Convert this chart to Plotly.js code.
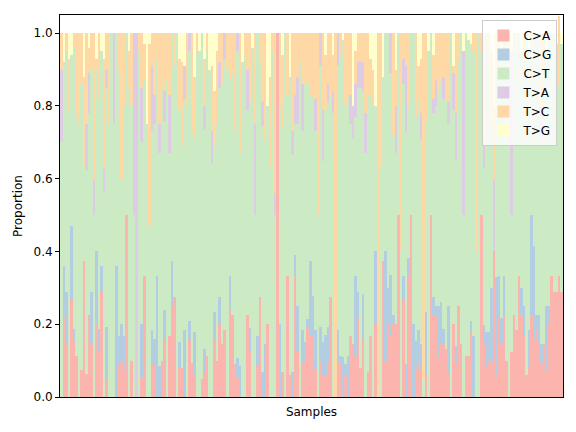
<!DOCTYPE html>
<html>
<head>
<meta charset="utf-8">
<script src="https://cdn.plot.ly/plotly-3.0.1.min.js"></script>
<style>html,body{margin:0;padding:0;background:#fff;}#chart{width:576px;height:432px;}</style>
</head>
<body>
<div id="chart"></div>
<script>
const mutationTypes = ["C>A", "C>G", "C>T", "T>A", "T>C", "T>G"];
const colors = ["#fbb4ae", "#b3cde3", "#ccebc5", "#decbe4", "#fed9a6", "#ffffcc"];

const CA = [0,.218,.147,0,.269,.152,.112,0,.074,.375,.063,.225,.147,0,.2,.125,.288,0,.048,0,0,0,0,.086,.1,.074,.5,0,
.1,0,0,0,.056,.333,0,0,.092,.085,0,0,.1,.16,0,.167,.25,.275,0,.08,.08,0,0,.16,.093,.06,0,0,.05,
.07,.112,0,0,.156,.1,.2,.147,.184,0,.242,.225,.092,.056,0,0,0,.225,.125,0,0,.085,.275,0,0,.2,0,0,
0,1,0,.07,0,.333,.06,0,.333,.125,0,.094,.1,.19,.167,.167,.074,0,.097,.06,.06,.097,.275,0,0,.092,.092,0,.06,
0,.167,.147,.112,.218,.079,.16,0,.07,.167,0,.2,0,0,.375,.1,.2,.167,.2,.2,.5,0,.268,0,.333,.5,0,.078,
.092,.074,0,.06,0,.5,.225,.225,.106,.147,.147,.133,.065,0,.2,.09,.25,.147,0,.112,.112,.179,0,0,0,.5,.147,.08,.1,
.1,.4,.06,.218,.147,.225,.1,0,.125,.225,.184,.333,.225,.167,.06,.083,.222,.156,.184,.147,.092,.147,.07,.2,.333,.288,.289,.333,.289];

const CG = [0,.141,.141,0,.2,.034,0,0,0,0,0,0,.141,0,.2,.063,.071,0,.144,0,0,0,.359,.081,.1,.093,0,0,
0,0,0,0,.144,0,0,0,.091,.075,.333,.085,0,.08,0,0,.125,0,0,.07,0,.183,0,.05,0,.12,0,0,0,
.063,0,0,0,.077,0,.075,0,0,0,.091,0,0,.05,.085,0,0,0,.065,0,0,.082,0,.07,.147,0,0,0,
0,0,.2,0,0,0,0,.07,.056,.125,0,.09,.05,.025,.208,.112,.11,0,.096,.09,.11,.096,0,0,0,.092,.02,.11,.03,
.112,0,0,.221,.07,0,.122,0,0,0,0,.2,0,0,0,.3,.1,.167,.025,0,0,0,.065,.092,.05,0,.2,.077,
.092,.073,0,.174,0,0,.05,.025,.145,.114,.04,0,.186,0,0,.05,0,0,0,0,0,.031,.167,0,0,0,.05,.1,.08,
.2,0,.27,.115,.071,.108,0,0,0,0,0,0,.075,.083,0,.1,.278,.26,.041,.078,.055,0,.18,.05,0,0,0,0,0];

const CT = [.7,.561,.662,.79,.471,.774,.668,.75,.786,.255,.562,.555,.612,.5,.5,.632,.591,.56,.658,.75,1,.75,.641,.733,.4,.633,.5,.85,
.7,.5,0,.95,.5,.537,.75,.47,.547,.59,.597,.585,.75,.52,.87,.503,.625,.635,1,.64,.61,.637,.8,.74,.637,.53,.95,.95,.95,
.602,.838,.9,.64,.457,.65,.575,.713,.746,.9,.537,.665,.638,.844,.585,.92,.94,.565,.62,.96,.5,.833,.645,.675,.563,.6,.63,.95,
.5,0,.6,.67,1,.497,.82,.595,.361,.5,.92,.546,.71,.645,.455,.551,.546,.5,.717,.5,.62,.617,.555,.78,0,.726,.828,.87,.71,
.718,.583,.563,.437,.562,.771,.558,.67,.76,.663,.8,.4,0,.63,.505,.6,.7,.556,.495,.47,.5,.4,.527,.638,.417,.5,.8,.615,
.636,.563,.05,.526,.95,.5,.505,.55,.589,.599,.633,.677,.499,1,.59,.51,.67,.853,.5,.888,.868,.76,.783,.4,1,.45,.433,.82,.77,
.45,0,.57,.617,.732,.667,.85,.9,.375,.775,.766,.667,.65,.67,.94,.777,.5,.584,.775,.775,.553,.853,.71,.75,.667,.712,.641,.523,.681];

const TA = [.2,0,0,0,0,0,0,0,0,0,.125,.11,0,.1,0,0,0,.07,.05,0,0,.25,0,0,0,0,0,0,
0,.5,1,0,.15,0,0,0,.18,.08,0,.08,0,.08,0,.16,0,0,0,0,0,.09,0,.05,0,0,0,0,0,
.065,0,0,.09,0,0,.07,0,.07,0,0,0,0,.05,0,0,0,.11,0,0,.25,0,0,.065,0,0,0,0,
.062,0,0,0,0,0,0,.065,.08,.13,0,.13,0,0,0,0,.09,0,.09,.14,0,.05,0,.06,0,.09,0,0,0,
0,.08,.09,.09,.07,.07,.08,.11,0,0,0,0,0,0,0,0,0,.11,0,.13,0,0,.07,.18,0,0,0,0,
0,.07,0,0,0,0,.04,.07,0,0,.06,0,.06,0,.1,.13,0,0,.45,0,0,0,0,0,0,0,.07,0,0,
0,.2,0,0,0,0,0,0,.45,0,0,0,0,0,0,0,0,0,0,0,.1,0,0,0,0,0,0,0,0];

const TC = [.1,0,.05,.14,0,.04,.22,.25,.14,.25,.25,.07,.1,.4,.03,.18,0,.3,.1,.25,0,0,0,.1,.4,.2,0,.1,
.2,0,0,.05,.15,.1,0,.5,.09,.17,.07,.25,.15,.16,.13,.17,0,.09,0,.14,.23,0,.2,0,.27,.17,.05,0,0,
.13,.05,0,.18,.15,.2,.08,.14,0,.1,.13,.11,.27,0,.33,0,.06,.1,.19,0,.25,0,.08,.19,.29,0,.25,.05,
.438,0,.2,.2,0,.17,0,.27,.17,.12,.08,.14,.14,.14,.17,.17,.18,.5,0,.21,.15,.14,.17,.1,1,0,.06,0,.2,
.17,.17,0,.09,.08,.08,.08,.22,.17,.1,.1,0,1,.37,0,0,0,0,.28,.1,0,.6,.07,.09,.2,0,0,.23,
.09,.15,.95,.24,0,0,.12,.13,.16,.14,.12,.19,.19,0,.02,.22,.08,0,0,0,0,0,.05,.6,0,.05,.3,0,.05,
.2,.2,.1,.05,0,0,.05,.1,0,0,.05,0,0,.08,0,0,0,0,0,0,.2,0,0,0,0,0,.04,.19,0];

const TG = [0,.08,0,.07,.06,0,0,0,0,.12,0,.04,0,0,.07,0,.05,.07,0,0,0,0,0,0,0,0,0,.05,
0,0,0,0,0,.03,.25,.03,0,0,0,0,0,0,0,0,0,0,0,.07,.08,.09,0,0,0,.12,0,.05,0,
.07,0,.1,.09,.16,.05,0,0,0,0,0,0,0,0,0,.08,0,0,0,.04,0,0,0,0,0,.2,.12,0,
0,0,0,.06,0,0,.12,0,0,0,0,0,0,0,0,0,0,0,0,0,.06,0,0,.06,0,0,0,.02,0,
0,0,.2,.05,0,0,0,0,0,.07,.1,.2,0,0,.12,0,0,0,0,.1,0,0,0,0,0,0,0,0,
.09,.07,0,0,.05,0,.06,0,0,0,0,0,0,0,.09,0,0,0,.05,0,.02,.03,0,0,0,0,0,0,0,
.05,.2,0,0,.05,0,0,0,.05,0,0,0,.05,0,0,.04,0,0,0,0,0,0,.04,0,0,0,.03,0,.03];

const yTicks = [0, 0.2, 0.4, 0.6, 0.8, 1.0];
const yTickText = ["0.0", "0.2", "0.4", "0.6", "0.8", "1.0"];

const series = [CA, CG, CT, TA, TC, TG];
const samples = CA.map((_, i) => i);

const traces = series.map((vals, k) => ({
  type: "bar",
  name: mutationTypes[k],
  x: samples,
  y: vals,
  marker: {color: colors[k], line: {width: 0}},
  hoverinfo: "skip"
}));

const layout = {
  width: 576, height: 432,
  margin: {l: 60, r: 13, t: 15, b: 35, pad: 0},
  paper_bgcolor: "#ffffff",
  plot_bgcolor: "#ffffff",
  barmode: "stack",
  bargap: 0,
  font: {family: "DejaVu Sans, sans-serif", size: 12, color: "#000"},
  showlegend: true,
  legend: {
    x: 0.989, y: 0.987, xanchor: "right", yanchor: "top",
    traceorder: "normal",
    bgcolor: "rgba(255,255,255,0.8)",
    bordercolor: "#cccccc", borderwidth: 1,
    font: {family: "DejaVu Sans, sans-serif", size: 12, color: "#000"},
    itemwidth: 30,
    tracegroupgap: 0
  },
  xaxis: {
    range: [-0.5, samples.length - 0.5],
    showticklabels: false,
    ticks: "",
    showgrid: false, zeroline: false,
    showline: true, mirror: true, linecolor: "#000", linewidth: 1,
    title: {text: "Samples", standoff: 10, font: {size: 12}},
    automargin: false
  },
  yaxis: {
    range: [0, 1.05],
    tickvals: yTicks, ticktext: yTickText,
    ticks: "outside", ticklen: 4, tickwidth: 1, tickcolor: "#000",
    showgrid: false, zeroline: false,
    showline: true, mirror: true, linecolor: "#000", linewidth: 1,
    title: {text: "Proportion", standoff: 8, font: {size: 12}},
    automargin: false
  }
};

Plotly.newPlot("chart", traces, layout, {displayModeBar: false, staticPlot: true});
</script>
</body>
</html>
